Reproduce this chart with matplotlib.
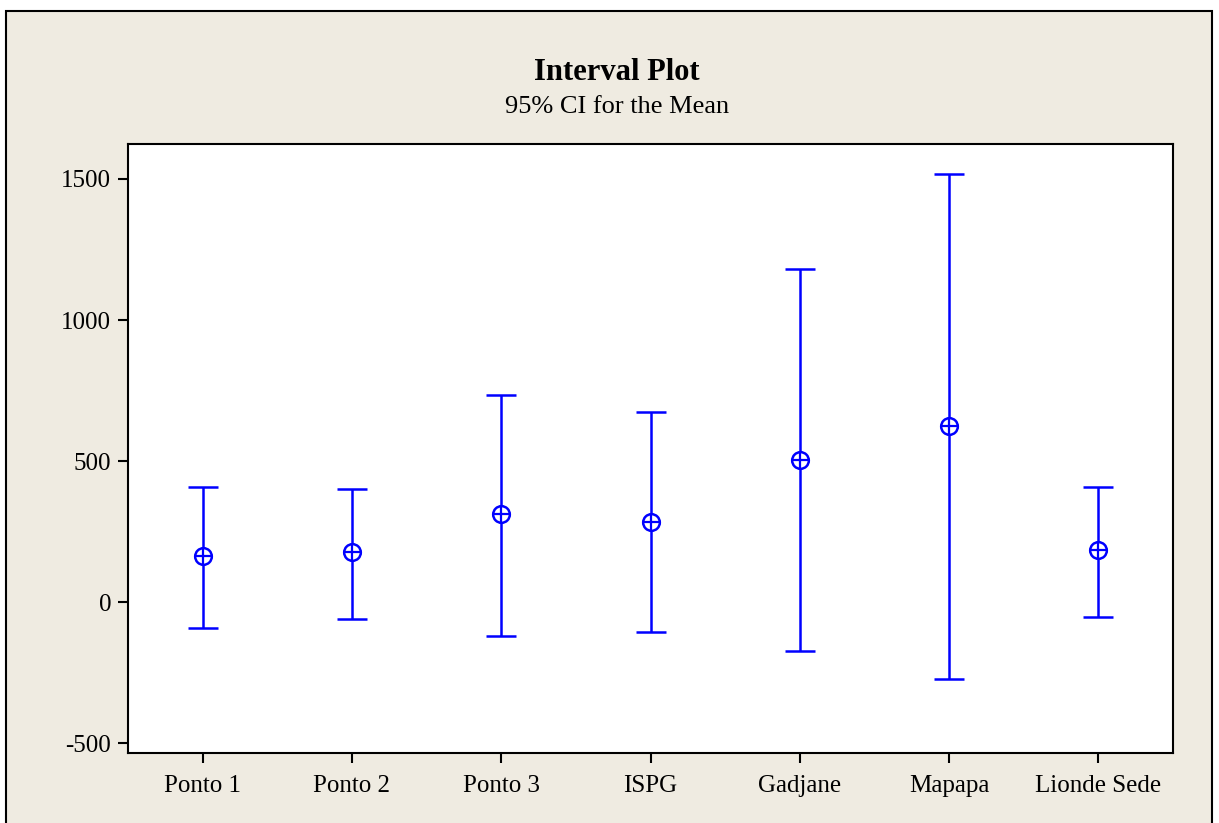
import matplotlib
matplotlib.use('Agg')
import matplotlib.pyplot as plt
from matplotlib.patches import Rectangle

categories = ['Ponto 1', 'Ponto 2', 'Ponto 3', 'ISPG', 'Gadjane', 'Mapapa', 'Lionde Sede']
means = [163, 177, 312, 284, 504, 624, 184]
upper = [408, 401, 734, 674, 1181, 1518, 408]
lower = [-92, -60, -121, -106, -174, -273, -53]
yticks = [-500, 0, 500, 1000, 1500]

plt.rcParams['font.family'] = ['Liberation Serif', 'DejaVu Serif']
plt.rcParams['axes.unicode_minus'] = False

W, H = 1219, 823
fig = plt.figure(figsize=(W / 100, H / 100), dpi=100)
fig.patch.set_facecolor('white')

# beige panel with black frame
fig.patches.append(Rectangle((6 / W, -0.05), (1212 - 6) / W, 1 - 11 / H + 0.05,
                             transform=fig.transFigure, facecolor='#efebe1',
                             edgecolor='black', linewidth=1.5, zorder=-10))

ax = fig.add_axes([128 / W, 1 - 753 / H, (1173 - 128) / W, (753 - 144) / H])
ax.set_facecolor('white')

x = list(range(len(categories)))
err_lo = [m - l for m, l in zip(means, lower)]
err_hi = [u - m for m, u in zip(means, upper)]
ax.errorbar(x, means, yerr=[err_lo, err_hi], fmt='none', ecolor='#0000ff',
            elinewidth=1.8, capsize=11, capthick=1.8)
ax.plot(x, means, 'o', ms=12, mfc='white', mec='#0000ff', mew=1.8, zorder=3)
ax.plot(x, means, '+', ms=12, mec='#0000ff', mew=1.6, zorder=4)

ax.set_xlim(-0.5, len(categories) - 0.5)
ax.set_ylim(-535, 1624)
ax.set_xticks(x)
ax.set_xticklabels(categories)
ax.set_yticks(yticks)
ax.tick_params(direction='out', length=7, width=1.5, labelsize=18)
ax.tick_params(axis='x', pad=9)
ax.tick_params(axis='y', pad=5)
for s in ax.spines.values():
    s.set_linewidth(1.5)

fig.text(617 / W, 1 - 72 / H, 'Interval Plot', ha='center', va='center',
         fontsize=22, fontweight='bold')
fig.text(617 / W, 1 - 107 / H, '95% CI for the Mean', ha='center', va='center',
         fontsize=19)

fig.savefig('out.png', dpi=100)
